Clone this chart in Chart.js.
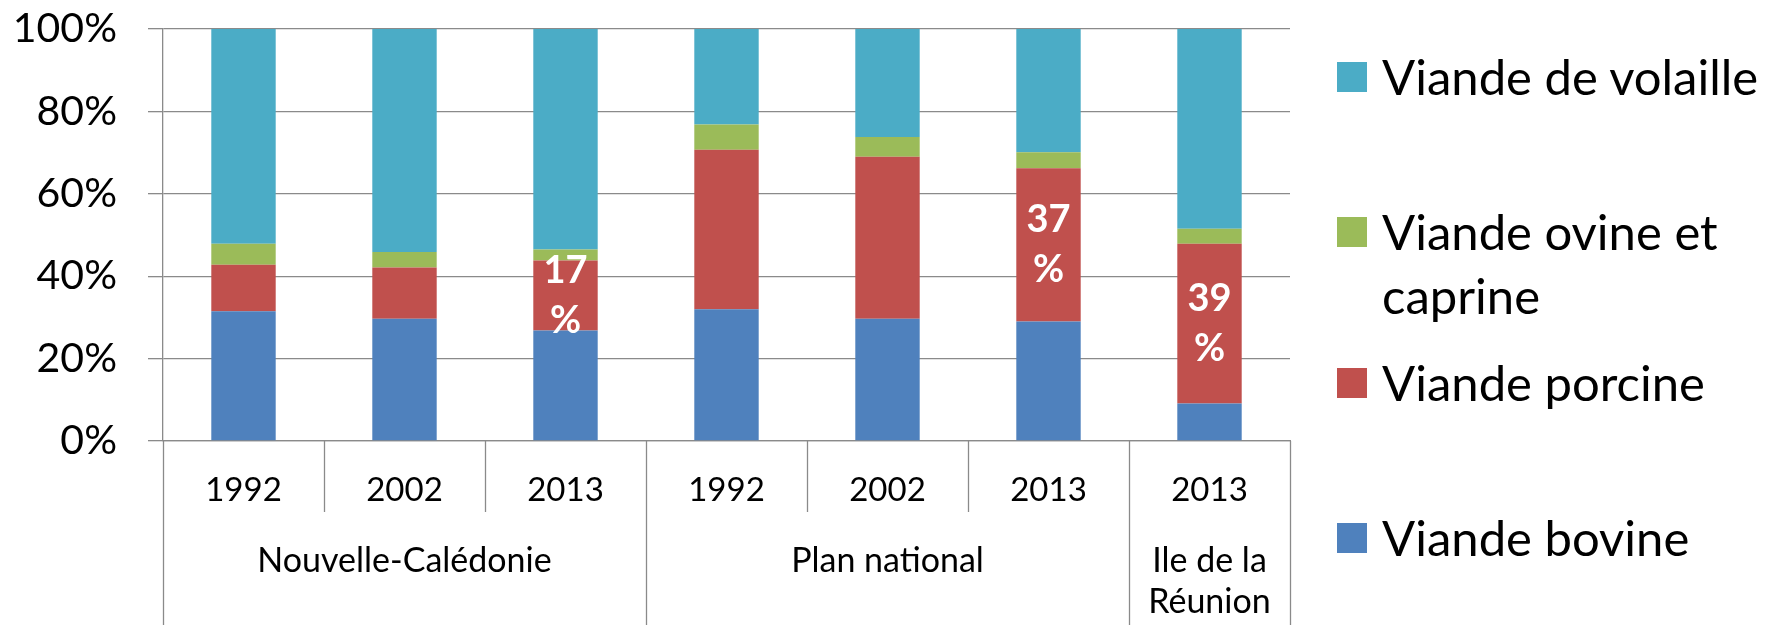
<!DOCTYPE html>
<html>
<head>
<meta charset="utf-8">
<script src="https://cdn.jsdelivr.net/npm/chart.js@4/dist/chart.umd.min.js"></script>
<style>
  body { margin: 0; background: #fff; }
  #wrap { position: relative; width: 1768px; height: 625px; overflow: hidden; }
  #legend { position: absolute; left: 1337px; top: 0; font-family: Lato, sans-serif; font-size: 49px; line-height: 63.5px; color: #000; }
  .item { position: absolute; left: 0; white-space: nowrap; display: flex; align-items: flex-start; }
  .box { width: 30px; height: 30px; margin: 16.75px 15px 0 0; flex: none; }
</style>
</head>
<body>
<div id="wrap">
  <canvas id="chart" width="1768" height="625"></canvas>
  <div id="legend"></div>
</div>
<script>
const years = ["1992", "2002", "2013", "1992", "2002", "2013", "2013"];
const groups = ["Nouvelle-Calédonie", "Plan national", ["Ile de la", "Réunion"]];
const groupSizes = [3, 3, 1];

const bovine = [31.5, 29.7, 26.8, 32.0, 29.7, 29.0, 9.1];
const porcine = [11.3, 12.4, 17.0, 38.7, 39.3, 37.2, 38.8];
const ovine = [5.1, 3.8, 2.7, 6.1, 4.8, 3.9, 3.6];
const volaille = [52.1, 54.1, 53.5, 23.2, 26.2, 29.9, 48.5];

const yTicks = [0, 20, 40, 60, 80, 100];
const pctShown = [false, false, true, false, false, true, true];

const gridColor = "#8a8a8a";
Chart.defaults.font.family = "Lato, sans-serif";
Chart.defaults.color = "#000";

// group names sit under the middle year of each group
const groupRow = [];
groupSizes.forEach((n, g) => {
  for (let k = 0; k < n; k++) groupRow.push(k === Math.floor(n / 2) ? groups[g] : "");
});

const separators = {
  id: "separators",
  afterDraw(chart) {
    const x = chart.scales.x;
    const ctx = chart.ctx;
    const bottom = chart.chartArea.bottom;
    const step = x.getPixelForValue(1) - x.getPixelForValue(0);
    const start = x.getPixelForValue(0) - step / 2;
    const edges = new Set([0]);
    let s = 0;
    groupSizes.forEach((n) => { s += n; edges.add(s); });
    ctx.save();
    ctx.strokeStyle = gridColor;
    ctx.lineWidth = 1.3;
    for (let i = 0; i <= years.length; i++) {
      const px = Math.round(start + i * step) + 0.5;
      ctx.beginPath();
      ctx.moveTo(px, bottom);
      ctx.lineTo(px, edges.has(i) ? chart.height : bottom + 71);
      ctx.stroke();
    }
    ctx.restore();
  },
};

const pctLabels = {
  id: "pctLabels",
  afterDatasetsDraw(chart) {
    const ctx = chart.ctx;
    const meta = chart.getDatasetMeta(1);
    ctx.save();
    ctx.font = "bold 38px Lato, sans-serif";
    ctx.fillStyle = "#fff";
    ctx.textAlign = "center";
    ctx.textBaseline = "middle";
    meta.data.forEach((bar, i) => {
      if (!pctShown[i]) return;
      const cy = (bar.y + bar.base) / 2;
      ctx.fillText(String(Math.round(porcine[i])), bar.x, cy - 25);
      ctx.fillText("%", bar.x, cy + 25);
    });
    ctx.restore();
  },
};

const chart = new Chart(document.getElementById("chart").getContext("2d"), {
  type: "bar",
  data: {
    labels: years,
    datasets: [
      { label: "Viande bovine", data: bovine, backgroundColor: "#4F81BD" },
      { label: "Viande porcine", data: porcine, backgroundColor: "#C0504D" },
      { label: ["Viande ovine et", "caprine"], data: ovine, backgroundColor: "#9BBB59" },
      { label: "Viande de volaille", data: volaille, backgroundColor: "#4BACC6" },
    ],
  },
  options: {
    responsive: false,
    animation: false,
    devicePixelRatio: 1,
    layout: { autoPadding: false, padding: { left: 15, top: 29, right: 478, bottom: 0 } },
    datasets: { bar: { barPercentage: 0.4, categoryPercentage: 1 } },
    plugins: { legend: { display: false }, tooltip: { enabled: false } },
    scales: {
      x: {
        stacked: true,
        grid: { display: false },
        border: { display: true, color: gridColor, width: 1.3 },
        ticks: { font: { size: 33 }, padding: 22, maxRotation: 0, autoSkip: false },
        afterFit: (s) => { s.height = 61; },
      },
      x2: {
        type: "category",
        labels: groupRow,
        position: "bottom",
        offset: true,
        grid: { display: false },
        border: { display: false },
        ticks: { font: { size: 34, lineHeight: 1.22 }, padding: 30, maxRotation: 0, autoSkip: false },
        afterFit: (s) => { s.height = 123; },
      },
      y: {
        stacked: true,
        min: 0,
        max: 100,
        afterBuildTicks: (s) => { s.ticks = yTicks.map((v) => ({ value: v })); },
        grid: { color: gridColor, lineWidth: 1.3, tickLength: 15 },
        border: { display: true, color: gridColor, width: 1.3 },
        ticks: { font: { size: 41 }, padding: 31, callback: (v) => v + "%" },
        afterFit: (s) => { s.width = 148; s.paddingTop = 0; s.paddingBottom = 0; },
      },
    },
  },
  plugins: [separators, pctLabels],
});

// legend, top entry = last dataset
const legendTops = [45.25, 200.25, 351.25, 506.25];
const legend = document.getElementById("legend");
chart.data.datasets.slice().reverse().forEach((ds, i) => {
  const item = document.createElement("div");
  item.className = "item";
  item.style.top = legendTops[i] + "px";
  const box = document.createElement("div");
  box.className = "box";
  box.style.background = ds.backgroundColor;
  const txt = document.createElement("div");
  txt.innerHTML = [].concat(ds.label).join("<br>");
  item.appendChild(box);
  item.appendChild(txt);
  legend.appendChild(item);
});
</script>
</body>
</html>
